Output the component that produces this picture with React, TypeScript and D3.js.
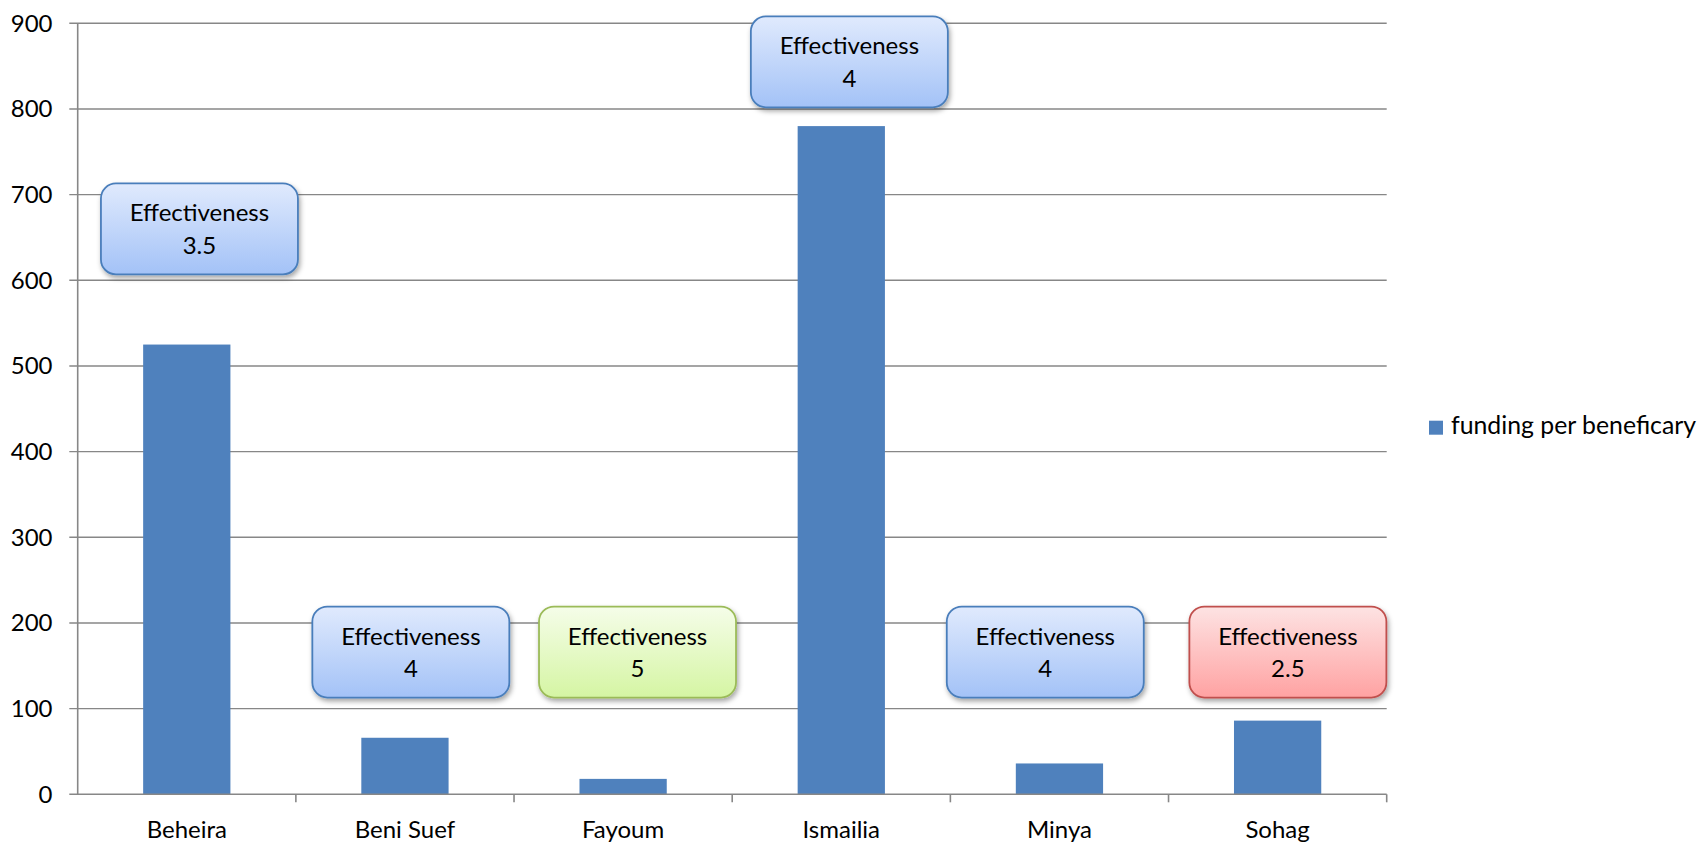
import React from "react";
import * as d3 from "d3";

// Funding per beneficiary by governorate, with an effectiveness score for each.
const categories = ["Beheira", "Beni Suef", "Fayoum", "Ismailia", "Minya", "Sohag"];
const funding = [525, 66, 18, 780, 36, 86];
const effectiveness = [3.5, 4, 5, 4, 4, 2.5];
const yTicks = [0, 100, 200, 300, 400, 500, 600, 700, 800, 900];
const seriesName = "funding per beneficary";

// Where each effectiveness callout sits: centre in axis units, and a sideways nudge as a share of the band.
const calloutCentre = [660, 166, 166, 855, 166, 166];
const calloutNudge = [0.058, 0.027, 0.066, 0.037, -0.065, 0.047];

const W = 1698;
const H = 842;
const plot = { left: 77.7, right: 1386.7, top: 23.3, bottom: 794.3 };
const FONT = "Lato, 'Open Sans', sans-serif";
const GRID = "#878787";
const BAR = "#4f81bd";

type Theme = { id: string; top: string; bottom: string; stroke: string };
const themes: Record<string, Theme> = {
  blue: { id: "gBlue", top: "#e0eafd", bottom: "#a3c2f7", stroke: "#4a7ebb" },
  green: { id: "gGreen", top: "#f5fde9", bottom: "#d5f5a3", stroke: "#9bbb59" },
  red: { id: "gRed", top: "#fde3e3", bottom: "#ffa2a2", stroke: "#c0504d" },
};
const themeFor = (score: number) =>
  score >= 5 ? themes.green : score < 3 ? themes.red : themes.blue;

export default function App() {
  const x = d3.scaleBand<string>().domain(categories).range([plot.left, plot.right]).padding(0);
  const y = d3.scaleLinear().domain([0, 900]).range([plot.bottom, plot.top]);
  const bw = x.bandwidth();
  const barW = bw * 0.4;
  const boxW = 197;
  const boxH = 91;

  return (
    <div style={{ position: "absolute", left: 0, top: 0, width: W, height: H, background: "#fff" }}>
      <svg width={W} height={H} style={{ display: "block" }} fontFamily={FONT}>
        <defs>
          {Object.values(themes).map((t) => (
            <linearGradient key={t.id} id={t.id} x1="0" y1="0" x2="0" y2="1">
              <stop offset="0" stopColor={t.top} />
              <stop offset="1" stopColor={t.bottom} />
            </linearGradient>
          ))}
          <filter id="shadow" x="-10%" y="-10%" width="125%" height="135%">
            <feDropShadow dx="1.5" dy="3" stdDeviation="2.5" floodColor="#000" floodOpacity="0.35" />
          </filter>
        </defs>

        {/* horizontal gridlines and value labels */}
        {yTicks.map((t) => (
          <g key={t}>
            {t > 0 && (
              <line x1={plot.left - 8.4} x2={plot.right} y1={y(t)} y2={y(t)} stroke={GRID} strokeWidth={1.4} />
            )}
            <text x={52.5} y={y(t)} dy="0.35em" textAnchor="end" fontSize={24} fill="#000">
              {t}
            </text>
          </g>
        ))}

        {/* bars */}
        {categories.map((c, i) => (
          <rect
            key={c}
            x={(x(c) as number) + (bw - barW) / 2}
            y={y(funding[i])}
            width={barW}
            height={y(0) - y(funding[i])}
            fill={BAR}
          />
        ))}

        {/* axes */}
        <line x1={plot.left - 8.4} x2={plot.right} y1={y(0)} y2={y(0)} stroke={GRID} strokeWidth={1.6} />
        <line x1={plot.left} x2={plot.left} y1={plot.top} y2={y(0)} stroke={GRID} strokeWidth={1.6} />
        {categories.map((c) => (
          <line
            key={c}
            x1={(x(c) as number) + bw}
            x2={(x(c) as number) + bw}
            y1={y(0)}
            y2={y(0) + 8}
            stroke={GRID}
            strokeWidth={1.6}
          />
        ))}
        {categories.map((c) => (
          <text
            key={c}
            x={(x(c) as number) + bw / 2}
            y={838}
            textAnchor="middle"
            fontSize={24}
            fill="#000"
          >
            {c}
          </text>
        ))}

        {/* effectiveness callouts */}
        {categories.map((c, i) => {
          const t = themeFor(effectiveness[i]);
          const cx = (x(c) as number) + bw / 2 + calloutNudge[i] * bw;
          const cy = y(calloutCentre[i]);
          return (
            <g key={c}>
              <rect
                x={cx - boxW / 2}
                y={cy - boxH / 2}
                width={boxW}
                height={boxH}
                rx={15}
                ry={15}
                fill={`url(#${t.id})`}
                stroke={t.stroke}
                strokeWidth={1.8}
                filter="url(#shadow)"
              />
              <text x={cx} y={cy - 7.5} textAnchor="middle" fontSize={24} fill="#000">
                Effectiveness
              </text>
              <text x={cx} y={cy + 25} textAnchor="middle" fontSize={24} fill="#000">
                {effectiveness[i]}
              </text>
            </g>
          );
        })}

        {/* legend */}
        <rect x={1429} y={420.7} width={14} height={14} fill={BAR} />
        <text x={1451} y={434} fontSize={24.8} fill="#000">
          {seriesName}
        </text>
      </svg>
    </div>
  );
}
